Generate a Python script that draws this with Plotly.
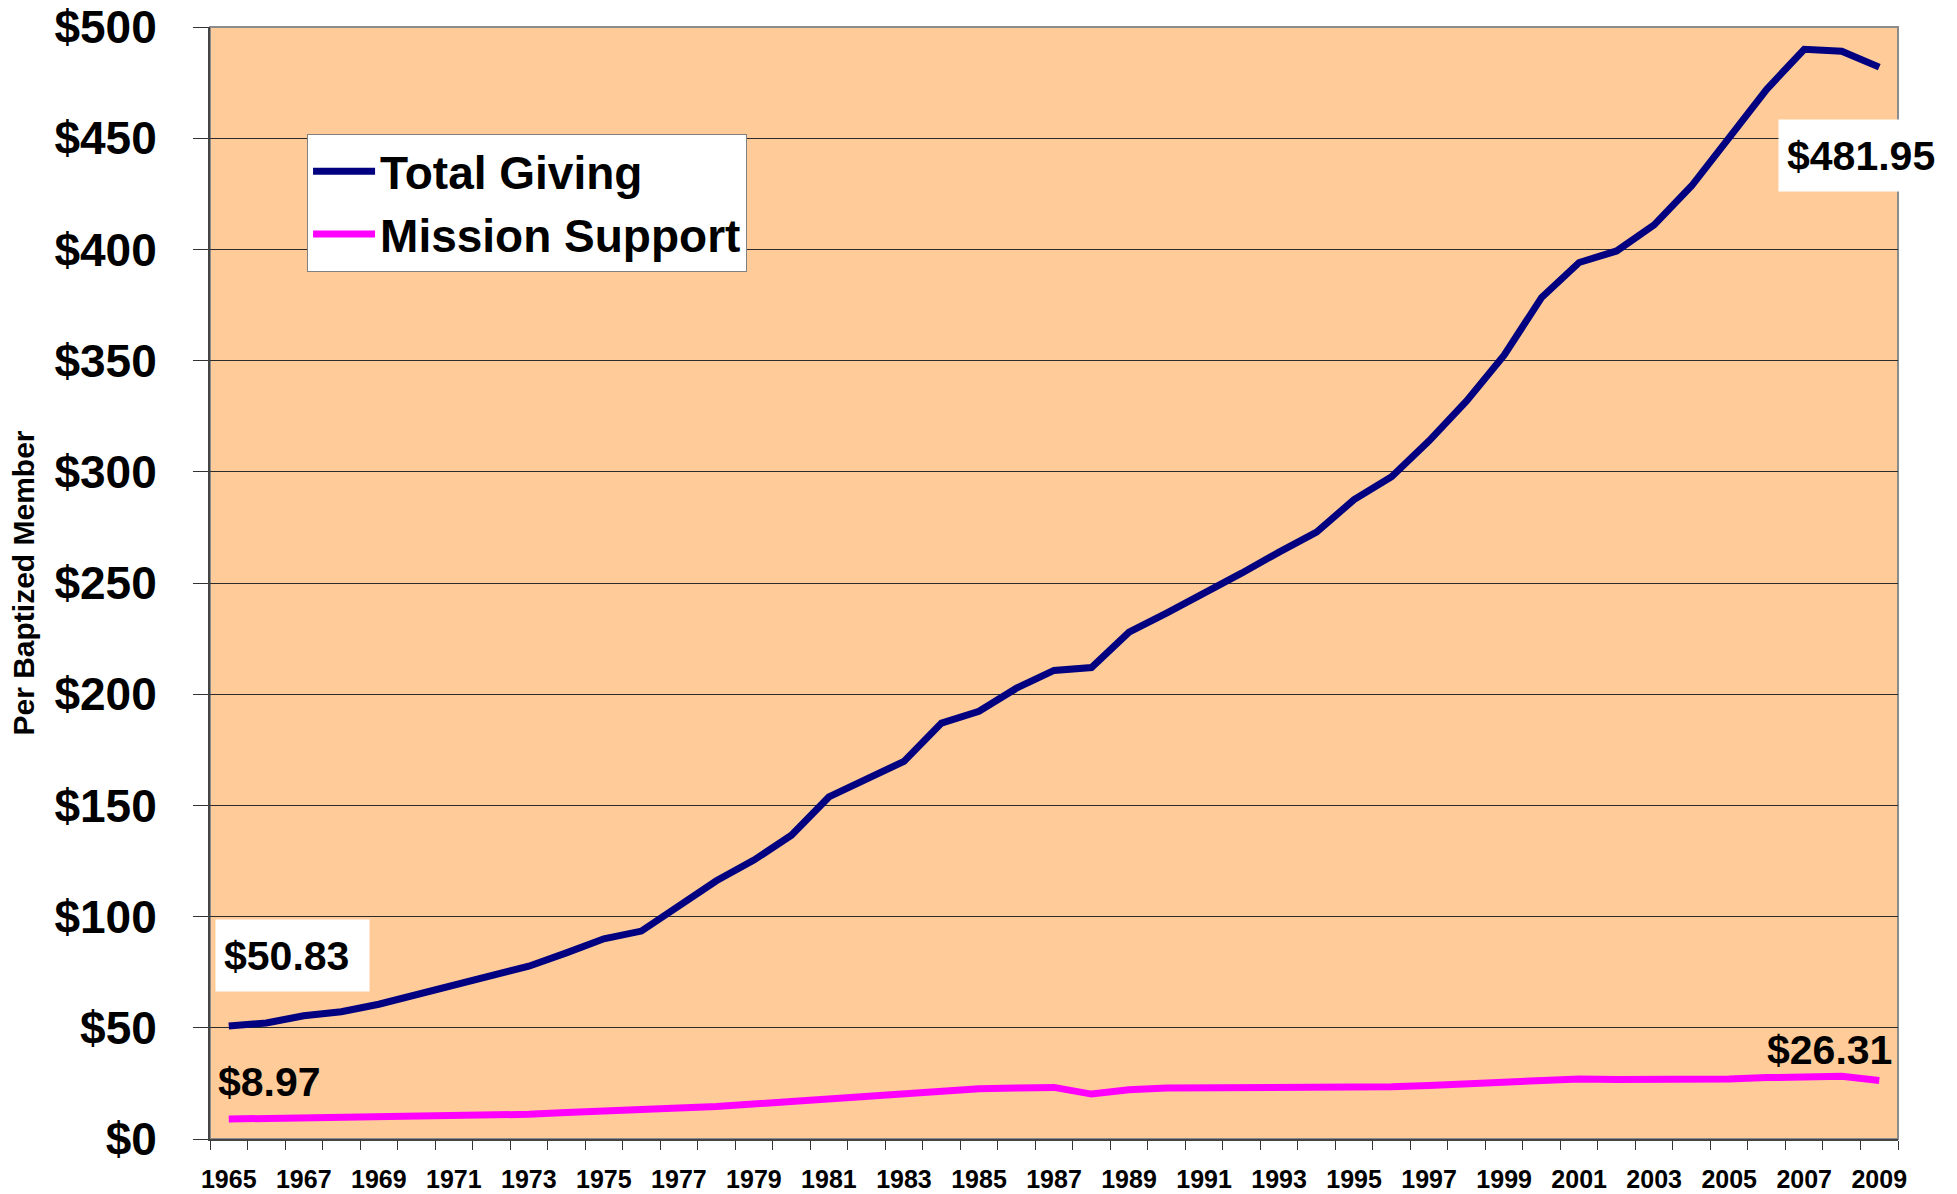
import plotly.graph_objects as go

YEARS = list(range(1965, 2010))

TOTAL_GIVING = [
    50.83, 52.2, 55.4, 57.2, 60.6, 65.0, 68.7, 73.4, 77.7, 83.7,
    90.0, 93.5, 105.1, 116.1, 125.4, 136.6, 153.8, 161.5, 169.8, 187.0,
    192.3, 202.7, 210.7, 212.0, 227.9, 236.5, 245.1, 254.4, 263.9, 272.9,
    287.5, 297.8, 313.9, 331.9, 352.4, 378.4, 394.1, 399.3, 411.0, 428.6,
    450.3, 472.0, 490.0, 489.1, 481.95,
]
MISSION_SUPPORT = [
    8.97, 9.2, 9.5, 9.6, 9.8, 10.2, 10.4, 10.8, 11.1, 11.9,
    12.8, 13.3, 13.9, 14.6, 15.7, 16.9, 18.4, 19.3, 20.2, 21.8,
    22.6, 22.9, 23.2, 20.2, 22.1, 22.9, 23.0, 23.2, 22.9, 22.9,
    23.3, 23.5, 24.1, 24.8, 25.5, 26.2, 27.0, 26.7, 26.7, 26.7,
    27.0, 27.6, 28.2, 28.2, 26.31,
]

TICK_YEARS = YEARS[::2]
Y_TICKS = list(range(0, 501, 50))

FONT = "Liberation Sans, Arial, sans-serif"
BG_COLOR = "#FFCC99"
GRID_COLOR = "#2b2b2b"

fig = go.Figure()

fig.add_trace(
    go.Scatter(
        x=YEARS,
        y=TOTAL_GIVING,
        name="Total Giving",
        mode="lines",
        line={"color": "#000080", "width": 7},
    )
)
fig.add_trace(
    go.Scatter(
        x=YEARS,
        y=MISSION_SUPPORT,
        name="Mission Support",
        mode="lines",
        line={"color": "#FF00FF", "width": 7},
    )
)

# data labels at the start and end of each line: boxed ones for Total Giving
boxed_labels = [
    (1964.63, 82.5, "$50.83", 137),
    (2006.3, 442.1, "$481.95", 148),
]
for x, y, text, box_width in boxed_labels:
    fig.add_annotation(
        x=x,
        y=y,
        text=f"<b>{text}</b>",
        showarrow=False,
        xanchor="left",
        yanchor="middle",
        align="left",
        width=box_width,
        height=55,
        bgcolor="white",
        borderpad=8,
        font={"family": FONT, "size": 41, "color": "black"},
    )

plain_labels = [
    (1964.69, 25.6, "$8.97"),
    (2005.98, 40.0, "$26.31"),
]
for x, y, text in plain_labels:
    fig.add_annotation(
        x=x,
        y=y,
        text=f"<b>{text}</b>",
        showarrow=False,
        xanchor="left",
        yanchor="middle",
        borderpad=0,
        font={"family": FONT, "size": 41, "color": "black"},
    )

# grey frame on top and right of the plot area
fig.add_shape(
    type="rect",
    xref="paper",
    yref="paper",
    x0=0,
    x1=1,
    y0=0,
    y1=1,
    line={"color": "#8c8c8c", "width": 2},
    layer="below",
)

fig.update_xaxes(
    range=[1964.5, 2009.5],
    tickmode="array",
    tickvals=TICK_YEARS,
    ticktext=[str(year) for year in TICK_YEARS],
    ticks="",
    ticklabelstandoff=17,
    ticklabeloverflow="allow",
    tickfont={"family": FONT, "size": 25, "color": "black", "weight": "bold"},
    minor={
        "tickmode": "linear",
        "tick0": 1964.5,
        "dtick": 1,
        "ticks": "outside",
        "ticklen": 9,
        "tickwidth": 1,
        "tickcolor": "#333333",
        "showgrid": False,
    },
    showgrid=False,
    zeroline=False,
    showline=True,
    linecolor="#444444",
    linewidth=2,
    automargin=False,
)
fig.update_yaxes(
    range=[0, 500],
    tickmode="array",
    tickvals=Y_TICKS,
    ticktext=[f"${value}" for value in Y_TICKS],
    ticks="outside",
    ticklen=15,
    tickwidth=1,
    tickcolor="#333333",
    ticklabelstandoff=27,
    ticklabeloverflow="allow",
    tickfont={"family": FONT, "size": 46, "color": "black", "weight": "bold"},
    showgrid=True,
    gridcolor=GRID_COLOR,
    gridwidth=1,
    zeroline=False,
    showline=True,
    linecolor="#444444",
    linewidth=2,
    automargin=False,
    title={
        "text": "Per Baptized Member",
        "font": {"family": FONT, "size": 30, "color": "black", "weight": "bold"},
        "standoff": 11,
    },
)
fig.update_layout(
    width=1957,
    height=1194,
    margin={"l": 210, "r": 59, "t": 27, "b": 55, "autoexpand": False},
    plot_bgcolor=BG_COLOR,
    paper_bgcolor="white",
    font={"family": FONT, "color": "black"},
    showlegend=True,
    legend={
        "x": 0.0575,
        "y": 0.904,
        "xanchor": "left",
        "yanchor": "top",
        "bgcolor": "white",
        "bordercolor": "#808080",
        "borderwidth": 1,
        "font": {"family": FONT, "size": 46, "color": "black", "weight": "bold"},
        "itemwidth": 62,
        "tracegroupgap": 0,
    },
    hovermode=False,
)

# drop the default page margin so the figure fills the window exactly
fig.write_html(
    "out.html",
    config={"displayModeBar": False},
    post_script="document.body.style.margin = '0';",
)
